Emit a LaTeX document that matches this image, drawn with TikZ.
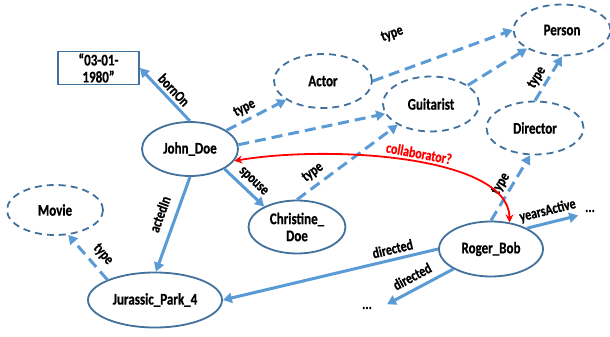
\documentclass[tikz,border=0pt]{standalone}
\usepackage{fontspec}
\setmainfont{Carlito}[FakeStretch=0.8, BoldFeatures={FakeBold=0.6}]
\usetikzlibrary{arrows.meta,shapes.geometric}
\definecolor{nodeblue}{RGB}{65,113,156}
\definecolor{arrowblue}{RGB}{91,155,213}
\tikzset{
  ent/.style={ellipse, draw=nodeblue, line width=1.8pt, inner sep=0pt, align=center,
    font=\fontsize{16.25}{17}\selectfont\bfseries},
  cls/.style={ent, dash pattern=on 7pt off 5pt},
  rel/.style={draw=arrowblue, line width=3pt, -{Triangle[length=9pt,width=10pt]}},
  typ/.style={rel, dash pattern=on 11pt off 6pt},
  lab/.style={font=\fontsize{15}{16}\selectfont\bfseries, sloped, inner sep=1pt},
  dots/.style={font=\fontsize{15}{16}\selectfont\bfseries, inner sep=2pt},
}
\begin{document}
\begin{tikzpicture}[x=1pt,y=-1pt]
\fill[white] (0,0) rectangle (610,337);
\useasboundingbox (0,0) rectangle (610,337);

\node[draw=nodeblue, line width=1.8pt, minimum width=81pt, minimum height=33pt, inner sep=0pt,
  align=center, font=\fontsize{16.25}{17}\selectfont\bfseries] (date) at (98.5,68) {“03-01-\\1980”};
\node[ent, minimum width=96pt, minimum height=54pt] (John_Doe) at (190,149) {John\_Doe};
\node[cls, minimum width=98pt, minimum height=54pt] (Actor) at (323,81) {Actor};
\node[cls, minimum width=96pt, minimum height=55pt] (Guitarist) at (431,104) {Guitarist};
\node[cls, minimum width=97pt, minimum height=51pt] (Person) at (562,30) {Person};
\node[cls, minimum width=97pt, minimum height=53pt] (Director) at (535,128) {Director};
\node[cls, minimum width=96pt, minimum height=50pt] (Movie) at (55,210) {Movie};
\node[ent, minimum width=97pt, minimum height=53pt] (Christine_Doe) at (297,227) {Christine\_\\Doe};
\node[ent, minimum width=134pt, minimum height=55pt] (Jurassic) at (155,300) {Jurassic\_Park\_4};
\node[ent, minimum width=104pt, minimum height=55pt] (Roger_Bob) at (491,249) {Roger\_Bob};
\node[dots] (dots1) at (590,211) {...};
\node[dots, inner xsep=8pt] (dots2) at (367,308) {...};

% solid relations
\draw[rel] (John_Doe.north) -- (date.east) node[lab, pos=0.46, above=2pt] {bornOn};
\draw[rel] (John_Doe.south) -- (Jurassic.88) node[lab, pos=0.45, above=8pt] {actedIn};
\draw[rel] (John_Doe.-30) -- (Christine_Doe.148) node[lab, pos=0.54, above=3pt] {spouse};
\draw[rel] (Roger_Bob.west) -- (Jurassic.east) node[lab, pos=0.2, above=3pt] {directed};
\draw[rel, shorten >=5pt] (Roger_Bob.30) -- (dots1.south west) node[lab, pos=0.42, above=3pt] {yearsActive};
\draw[rel, shorten >=8pt] (Roger_Bob.208) -- (dots2.east) node[lab, pos=0.48, above=5pt] {directed};

% type relations
\draw[typ] (John_Doe) -- (Actor) node[lab, pos=0.39, above=3pt] {type};
\draw[typ] (John_Doe.5) -- (Guitarist.192);
\draw[typ] (Actor.east) -- (Person.west) node[lab, pos=0.23, above=29pt] {type};
\draw[typ] (Guitarist.27) -- (Person.208);
\draw[typ] (Director.north) -- (Person.south) node[lab, pos=0.4, above=2pt] {type};
\draw[typ] (Christine_Doe.north) -- (Guitarist.212) node[lab, pos=0.23, above=4pt] {type};
\draw[typ] (Roger_Bob.north) -- (Director.260) node[lab, pos=0.48, above=2pt] {type};
\draw[typ] (Jurassic.157) -- (Movie.-62) node[lab, pos=0.37, above=5pt] {type};

% collaborator
\draw[red, line width=1.8pt, {Stealth[length=8pt,width=8pt]}-{Stealth[length=8pt,width=8pt]}]
  (John_Doe.-15) .. controls +(95,-16) and +(-1,-67) .. (Roger_Bob.55)
  node[lab, pos=0.53, above=2pt, text=red] {collaborator?};
\end{tikzpicture}
\end{document}
